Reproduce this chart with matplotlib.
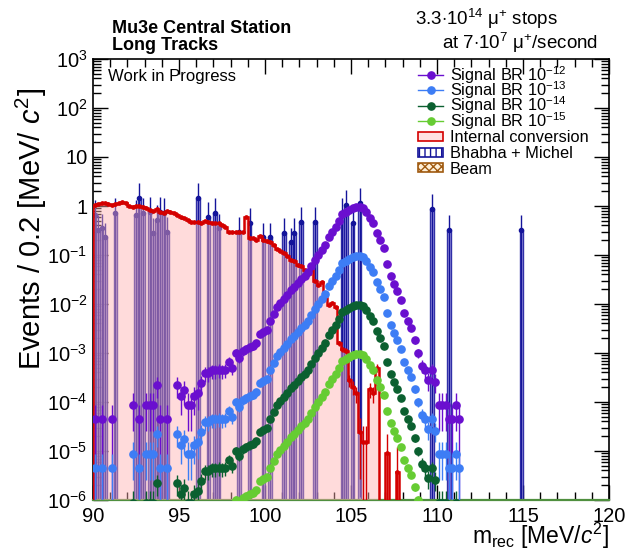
from __future__ import annotations

import numpy as np
import matplotlib

matplotlib.use("Agg")
import matplotlib.pyplot as plt
from matplotlib.lines import Line2D
from matplotlib.patches import Rectangle
from matplotlib.ticker import FixedLocator, FixedFormatter, LogLocator, MultipleLocator, NullFormatter

plt.rcParams["font.family"] = ["Liberation Sans", "DejaVu Sans"]
plt.rcParams["mathtext.fontset"] = "custom"
plt.rcParams["mathtext.rm"] = "Liberation Sans"
plt.rcParams["mathtext.it"] = "Liberation Sans:italic"
plt.rcParams["mathtext.bf"] = "Liberation Sans:bold"
plt.rcParams["hatch.linewidth"] = 1.0

# binning: 0.2 MeV bins from 90 to 120 MeV
X_MIN, X_MAX, BIN_WIDTH = 90.0, 120.0, 0.2

# signal at BR 1e-12 (events per bin), other BRs are the same MC scaled
signal_br12 = [
  4.4e-5, 0, 4.4e-5, 0, 0, 4.4e-5, 0, 0, 0, 0,
  0, 8.8e-5, 0, 4.4e-5, 0, 8.8e-5, 8.8e-5, 8.8e-5, 2.2e-4, 4.4e-5,
  0, 4.4e-5, 0, 0, 2.2e-4, 1.3e-4, 1.75e-4, 8.8e-5, 8.8e-5, 1.3e-4,
  1.5e-4, 2.4e-4, 3.9e-4, 3.9e-4, 4.4e-4, 4.4e-4, 4.5e-4, 4.4e-4, 4.5e-4, 6.5e-4,
  5.0e-4, 1.0e-3, 8.0e-4, 1.1e-3, 1.2e-3, 1.3e-3, 1.4e-3, 1.6e-3, 2.5e-3, 2.7e-3,
  3.0e-3, 4.5e-3, 6.3e-3, 8.5e-3, 1.05e-2, 1.25e-2, 1.5e-2, 1.9e-2, 2.2e-2, 2.7e-2,
  3.3e-2, 3.7e-2, 4.5e-2, 6.0e-2, 8.0e-2, 1.0e-1, 1.25e-1, 1.6e-1, 2.3e-1, 3.0e-1,
  3.8e-1, 5.0e-1, 6.8e-1, 7.5e-1, 8.3e-1, 9.2e-1, 9.7e-1, 9.5e-1, 8.9e-1, 7.4e-1,
  5.8e-1, 4.4e-1, 2.8e-1, 2.0e-1, 1.4e-1, 6.5e-2, 3.8e-2, 2.6e-2, 1.8e-2, 1.2e-2,
  6.5e-3, 4.5e-3, 3.3e-3, 1.8e-3, 1.0e-3, 5.5e-4, 4.5e-4, 2.8e-4, 4.5e-4, 2.6e-4,
  8.8e-5, 8.8e-5, 8.8e-5, 4.4e-5, 4.4e-5, 8.8e-5, 4.4e-5, 0, 0, 0,
] + [0] * 40
signal_unit_weight = 4.4e-5
signal_scale = [1.0, 0.1, 0.01, 0.001]
signal_labels = [
  r"Signal BR 10$^{-12}$",
  r"Signal BR 10$^{-13}$",
  r"Signal BR 10$^{-14}$",
  r"Signal BR 10$^{-15}$",
]
signal_colors = ["#6a0fcf", "#3d7df5", "#0b6030", "#66cc33"]

internal_conversion = [
  1.05, 1.10, 1.13, 1.13, 1.10, 1.05, 1.10, 1.13, 1.22, 1.13,
  1.00, 0.97, 1.00, 1.00, 0.94, 0.90, 0.83, 0.80, 0.86, 0.77,
  0.73, 0.80, 0.77, 0.71, 0.65, 0.60, 0.56, 0.52, 0.48, 0.47,
  0.48, 0.44, 0.50, 0.48, 0.46, 0.44, 0.46, 0.41, 0.38, 0.30,
  0.29, 0.30, 0.30, 0.29, 0.60, 0.22, 0.22, 0.20, 0.24, 0.20,
  0.19, 0.18, 0.16, 0.13, 0.12, 0.11, 0.095, 0.080, 0.075, 0.062,
  0.060, 0.050, 0.040, 0.050, 0.030, 0.024, 0.028, 0.013, 0.0095, 0.0105,
  0.0085, 0.0016, 0.0012, 0.0011, 2.8e-4, 2.0e-4, 1.5e-4, 2.5e-5, 1.5e-5, 1.5e-5,
  1.8e-4, 1.5e-4, 5.0e-4, 0, 0, 9e-6, 0, 0, 3.7e-6, 0,
] + [0] * 60
ic_unit_weight = 2e-5

bhabha_centers = [
  90.1, 90.3, 90.5, 90.7, 91.3, 92.5, 92.7, 92.9, 93.3, 93.5, 93.7, 93.9,
  94.1, 94.3, 96.1, 96.7, 97.1, 97.3, 98.5, 99.1, 99.9, 100.3, 101.1, 101.5,
  101.7, 102.1, 102.9, 104.5, 104.7, 105.1, 105.5, 109.7, 110.7, 114.9,
]
bhabha_values = [
  0.65, 0.32, 0.35, 0.23, 0.72, 0.65, 1.45, 0.72, 0.75, 0.28, 0.52, 0.75,
  0.72, 0.30, 1.45, 0.60, 0.72, 0.35, 0.30, 0.45, 0.23, 0.23, 0.28, 0.18,
  0.28, 0.47, 0.47, 0.72, 1.05, 0.45, 1.15, 0.87, 0.33, 0.33,
]

y_tick_values = [1e-6, 1e-5, 1e-4, 1e-3, 1e-2, 1e-1, 1, 10, 1e2, 1e3]
y_tick_labels = [
  r"$10^{-6}$", r"$10^{-5}$", r"$10^{-4}$", r"$10^{-3}$", r"$10^{-2}$",
  r"$10^{-1}$", "1", "10", r"$10^{2}$", r"$10^{3}$",
]

IC_LINE, IC_FILL = "#d40000", "#ffb0b0"
BM_LINE, BM_FILL = "#14149a", "#8f88dc"
BEAM_LINE, BEAM_FILL = "#a05a10", "#fff0d8"

LOW = 1e-12  # stand-in for empty bins on the log axis
W, H = 633, 550


def fx(px):
  return px / W


def fy(py):
  return 1 - py / H


def draw_errorbars(ax, x, y, err, color, ms, zorder, xerr=None, elw=1.0):
  lo = np.where(err >= y, y * (1 - 1e-6), err)
  ax.errorbar(
    x, y, yerr=[lo, err], xerr=xerr, fmt="o", ms=ms, color=color,
    mec=color, elinewidth=elw, capsize=0, zorder=zorder, lw=0,
  )


def draw_legend(fig):
  labels = signal_labels + ["Internal conversion", "Bhabha + Michel", "Beam"]
  x0, x1, x_text = 418, 443, 450
  for i, label in enumerate(labels):
    yc = 74.5 + 15.5 * i
    if i < len(signal_colors):
      c = signal_colors[i]
      fig.add_artist(Line2D([fx(x0), fx(x1)], [fy(yc), fy(yc)], color=c,
                            lw=1.0, transform=fig.transFigure))
      fig.add_artist(Line2D([fx((x0 + x1) / 2)], [fy(yc)], color=c,
                            marker="o", ms=5.2, transform=fig.transFigure))
    else:
      edge, face, hatch = [
        (IC_LINE, "#ffe0e0", None),
        (BM_LINE, "white", "|||"),
        (BEAM_LINE, BEAM_FILL, "xxxx"),
      ][i - len(signal_colors)]
      fig.add_artist(Rectangle((fx(x0), fy(yc + 4.5)), fx(x1 - x0), 9 / H,
                               facecolor=face, edgecolor=edge, hatch=hatch,
                               lw=1.2, transform=fig.transFigure))
    fig.text(fx(x_text), fy(yc + 6), label, fontsize=11.8, va="baseline")


def make_plot(out_path="out.png"):
  edges = np.linspace(X_MIN, X_MAX, int(round((X_MAX - X_MIN) / BIN_WIDTH)) + 1)
  centers = 0.5 * (edges[:-1] + edges[1:])

  fig = plt.figure(figsize=(6.33, 5.5), dpi=100)
  ax = fig.add_axes([93 / W, 50 / H, 516 / W, 441 / H])
  ax.set_yscale("log")

  # Bhabha + Michel bars
  bx = np.array(bhabha_centers)
  bv = np.array(bhabha_values)
  ax.bar(bx, bv, width=BIN_WIDTH, bottom=LOW, color=BM_FILL, alpha=0.85,
         edgecolor=BM_LINE, linewidth=1.0, zorder=2)
  draw_errorbars(ax, bx, bv, bv, BM_LINE, 3, 2.5)

  # internal conversion
  ic = np.array(internal_conversion, dtype=float)
  ic_plot = np.where(ic > 0, ic, LOW)
  ax.stairs(ic_plot, edges, baseline=LOW, fill=True, color=IC_FILL,
            alpha=0.45, lw=0, zorder=3)
  ax.stairs(ic_plot, edges, baseline=LOW, color=IC_LINE, lw=1.8, zorder=4)
  mask = ic > 0
  draw_errorbars(ax, centers[mask], ic[mask],
                 np.sqrt(ic[mask] * ic_unit_weight), IC_LINE, 2.4, 4.5)

  # signals
  sig = np.array(signal_br12, dtype=float)
  for k, (scale, color) in enumerate(zip(signal_scale, signal_colors)):
    vals = sig * scale
    m = vals > 0
    err = np.sqrt(vals[m] * signal_unit_weight * scale)
    draw_errorbars(ax, centers[m], vals[m], err, color, 5.2, 6 + k,
                   xerr=BIN_WIDTH / 2)

  ax.set_xlim(X_MIN, X_MAX)
  ax.set_ylim(1e-6, 1e3)

  ax.xaxis.set_major_locator(MultipleLocator(5))
  ax.xaxis.set_minor_locator(MultipleLocator(1))
  ax.yaxis.set_major_locator(FixedLocator(y_tick_values))
  ax.yaxis.set_major_formatter(FixedFormatter(y_tick_labels))
  ax.yaxis.set_minor_locator(LogLocator(base=10, subs=np.arange(2, 10)))
  ax.yaxis.set_minor_formatter(NullFormatter())
  ax.tick_params(which="both", direction="in", top=True, right=True,
                 labelsize=14.5, width=1.0)
  ax.tick_params(axis="x", pad=5)
  ax.tick_params(axis="y", pad=4)
  ax.tick_params(which="major", length=11)
  ax.tick_params(which="minor", length=5.5)
  for side in ("left", "right", "top"):
    ax.spines[side].set_linewidth(1.2)
  ax.spines["bottom"].set_color("#4f8f3f")
  ax.spines["bottom"].set_linewidth(1.6)

  ax.set_xlabel(r"m$_{\rm rec}$ [MeV/$c^{2}$]", fontsize=16.5, loc="right")
  ax.xaxis.set_label_coords(1.0, -21 / 441)
  ax.set_ylabel(r"Events / 0.2 [MeV/ $c^{2}$]", fontsize=21, loc="top")
  ax.yaxis.set_label_coords(-44 / 516, 1 - 29 / 441)

  fig.text(fx(112), fy(33), "Mu3e Central Station",
           fontsize=13, fontweight="bold")
  fig.text(fx(112), fy(50), "Long Tracks",
           fontsize=13, fontweight="bold")
  fig.text(fx(415), fy(25), r"3.3$\cdot$10$^{14}$ μ$^{+}$ stops",
           fontsize=13.5)
  fig.text(fx(598), fy(49), r"at 7$\cdot$10$^{7}$ μ$^{+}$/second",
           fontsize=13.5, ha="right")
  fig.text(fx(108), fy(81), "Work in Progress", fontsize=12,
           va="baseline")

  draw_legend(fig)

  fig.savefig(out_path, dpi=100)
  plt.close(fig)
  return out_path


def main():
  make_plot("out.png")


if __name__ == "__main__":
  main()
